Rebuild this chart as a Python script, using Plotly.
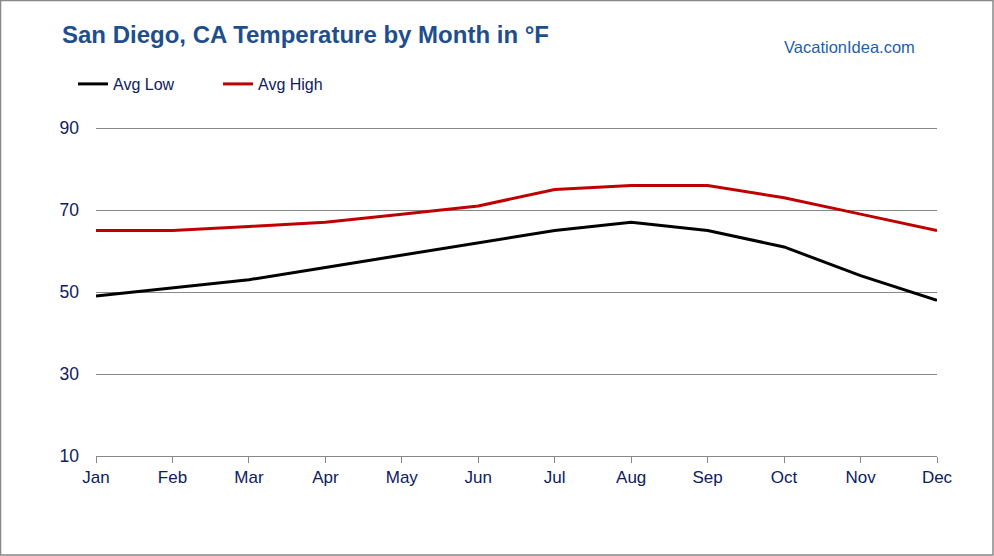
import plotly.graph_objects as go

months = ["Jan", "Feb", "Mar", "Apr", "May", "Jun", "Jul", "Aug", "Sep", "Oct", "Nov", "Dec"]
avg_low = [49, 51, 53, 56, 59, 62, 65, 67, 65, 61, 54, 48]
avg_high = [65, 65, 66, 67, 69, 71, 75, 76, 76, 73, 69, 65]
y_ticks = [10, 30, 50, 70, 90]

W, H = 994, 556
ML, MR, MT, MB = 96, 57, 126, 100
PW, PH = W - ML - MR, H - MT - MB

fig = go.Figure()
fig.add_trace(go.Scatter(x=months, y=avg_low, mode="lines", name="Avg Low",
                         line=dict(color="#000000", width=3)))
fig.add_trace(go.Scatter(x=months, y=avg_high, mode="lines", name="Avg High",
                         line=dict(color="#C00000", width=3)))

font = "Liberation Sans, Arial, sans-serif"
navy = "#0D2060"

fig.update_layout(
    width=W, height=H,
    margin=dict(l=ML, r=MR, t=MT, b=MB),
    paper_bgcolor="white", plot_bgcolor="white",
    font=dict(family=font, color=navy),
    showlegend=True,
    legend=dict(orientation="h", xref="container", yref="container",
                x=73 / W, y=1 - 67 / H, xanchor="left", yanchor="top",
                entrywidth=100, entrywidthmode="pixels",
                font=dict(size=16, color=navy, family=font),
                bgcolor="rgba(0,0,0,0)", itemwidth=30),
    xaxis=dict(type="category", range=[0, 11], showgrid=False,
               showline=True, linecolor="#888888", linewidth=1,
               ticks="outside", ticklen=6, tickcolor="#888888",
               tickfont=dict(size=17, color=navy, family=font)),
    yaxis=dict(range=[10, 90.5], tickvals=y_ticks, showgrid=True,
               gridcolor="#888888", gridwidth=1, zeroline=False,
               showline=False, ticks="", ticklabelstandoff=16,
               tickfont=dict(size=17.5, color=navy, family=font)),
    annotations=[
        dict(text="<b>San Diego, CA Temperature by Month in °F</b>",
             xref="paper", yref="paper", x=(60 - ML) / PW, y=1 + (MT - 34) / PH,
             xanchor="left", yanchor="middle", showarrow=False,
             font=dict(size=24, color="#1F4E8C", family=font)),
        dict(text="VacationIdea.com",
             xref="paper", yref="paper", x=(917 - ML) / PW, y=1 + (MT - 47) / PH,
             xanchor="right", yanchor="middle", showarrow=False,
             font=dict(size=16.5, color="#1F5FAA", family=font)),
    ],
    shapes=[
        dict(type="rect", xref="paper", yref="paper",
             x0=(0.5 - ML) / PW, x1=1 + (MR - 1) / PW,
             y0=-(MB - 1) / PH, y1=1 + (MT - 0.5) / PH,
             line=dict(color="#888888", width=1.5), layer="above"),
    ],
)

fig.write_html("out.html", config={"displayModeBar": False},
               post_script="document.body.style.margin='0';")
